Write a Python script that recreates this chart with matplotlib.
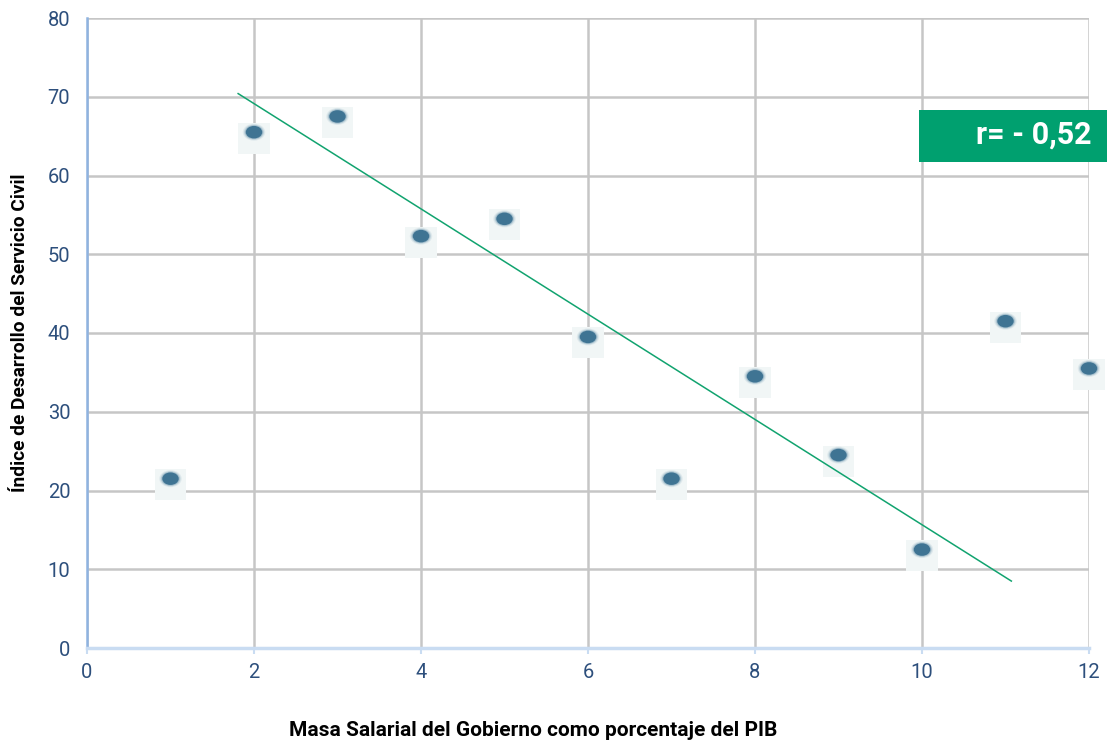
import numpy as np
import matplotlib
matplotlib.use("Agg")
import matplotlib.pyplot as plt
from matplotlib.path import Path
from matplotlib.transforms import ScaledTranslation

# data
masa_pib = [1, 2, 3, 4, 5, 6, 7, 8, 9, 10, 11, 12]
indice_sc = [21.5, 65.5, 67.5, 52.3, 54.5, 39.5, 21.5, 34.5, 24.5, 12.5, 41.5, 35.5]
trend_x = [1.81, 11.07]
trend_y = [70.4, 8.5]
r_label = "r= - 0,52"

plt.rcParams['font.family'] = ['Roboto', 'DejaVu Sans']

W, H = 1107, 745
fig = plt.figure(figsize=(W / 100, H / 100), dpi=100)
ax = fig.add_axes([87 / W, 1 - 648 / H, (1089 - 87) / W, (648 - 18) / H])

ax.set_xlim(0, 12)
ax.set_ylim(0, 80)
ax.set_xticks(np.arange(0, 13, 2))
ax.set_yticks(np.arange(0, 81, 10))
ax.grid(True, color='#c6c6c6', linewidth=1.8)
ax.set_axisbelow(True)

for s in ['top', 'right']:
    ax.spines[s].set_visible(False)
ax.spines['left'].set_color('#8fb3e0')
ax.spines['left'].set_linewidth(1.8)
ax.spines['bottom'].set_color('#c9dcf2')
ax.spines['bottom'].set_linewidth(2.5)
ax.tick_params(axis='both', colors='#c9dcf2', labelcolor='#2d4f7c', labelsize=14.5, width=1.5)
ax.tick_params(axis='y', length=0, pad=12)
ax.tick_params(axis='x', length=4, pad=7)

# elliptical dot marker
circ = Path.unit_circle()
ell = Path(circ.vertices * np.array([1.0, 0.76]), circ.codes)

# markers: pale square backdrop + blurred teal dot
sq_tr = ax.transData + ScaledTranslation(0, -0.06, fig.dpi_scale_trans)
ax.scatter(masa_pib, indice_sc, marker='s', s=500, color='#f1f6f6', edgecolors='none',
           zorder=3, clip_on=False, transform=sq_tr)
for sz, al in [(260, 0.12), (210, 0.2), (175, 0.35)]:
    ax.scatter(masa_pib, indice_sc, marker=ell, s=sz, color='#5e8ea8', alpha=al,
               edgecolors='none', zorder=4, clip_on=False)
ax.scatter(masa_pib, indice_sc, marker=ell, s=140, color='#3a7090', alpha=0.95,
           edgecolors='none', zorder=5, clip_on=False)

ax.plot(trend_x, trend_y, color='#11a36f', linewidth=1.1, zorder=6)

fig.text(533 / W, 1 - 730 / H, 'Masa Salarial del Gobierno como porcentaje del PIB',
         ha='center', va='center', fontsize=15, fontweight='bold', color='black')
fig.text(20 / W, 1 - 333 / H, 'Índice de Desarrollo del Servicio Civil', rotation=90,
         ha='center', va='center', fontsize=13.8, fontweight='bold', color='black')

fig.patches.append(plt.Rectangle((919 / W, 1 - 162 / H), (W - 919) / W, 52 / H,
                                 transform=fig.transFigure, facecolor='#00a06f',
                                 edgecolor='none', zorder=0))
fig.text(1092 / W, 1 - 135 / H, r_label, ha='right', va='center', fontsize=22,
         fontweight='bold', color='white')

fig.savefig('out.png', dpi=100)
